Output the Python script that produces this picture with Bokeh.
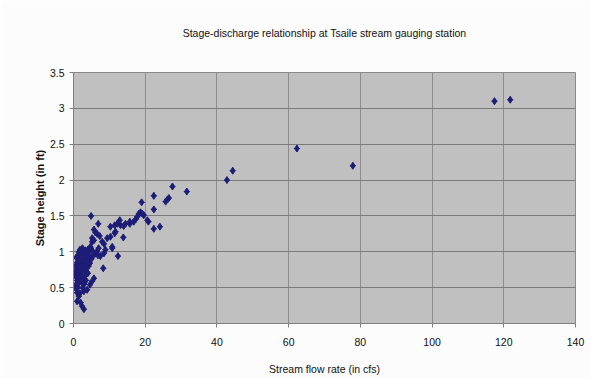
from bokeh.plotting import figure
from bokeh.models import Range1d, FixedTicker, NumeralTickFormatter, ColumnDataSource, BoxAnnotation, Title, Label
from bokeh.embed import file_html
from bokeh.resources import INLINE

title_text = "Stage-discharge relationship at Tsaile stream gauging station"
x_label = "Stream flow rate (in cfs)"
y_label = "Stage height (in ft)"
x_ticks = [0, 20, 40, 60, 80, 100, 120, 140]
y_ticks = [0, 0.5, 1, 1.5, 2, 2.5, 3, 3.5]

# stream flow rate (cfs)
flow = [
    0.8, 1.0, 1.2, 1.5, 1.8, 2.0, 2.2, 2.5, 2.8, 3.0, 3.3, 3.6, 4.0, 4.3, 4.8, 5.2,
    0.9, 1.1, 1.3, 1.6, 1.9, 2.1, 2.4, 2.6, 2.9, 3.2, 3.5, 3.8, 4.1, 4.5, 5.0, 5.5, 6.0,
    0.7, 1.0, 1.2, 1.5, 1.8, 2.1, 2.3, 2.6, 3.0, 3.4, 3.7, 4.2, 4.6,
    0.8, 1.1, 1.4, 1.7, 2.2, 2.7, 3.1,
    1.0, 1.2, 1.0, 2.0, 2.4, 2.9, 2.9, 3.8, 4.6, 5.2, 5.7,
    8.3, 7.5, 8.5, 8.9, 10.8, 12.4, 4.3, 4.7, 5.2, 5.7, 5.2, 7.3, 8.0, 8.5, 9.4, 10.3,
    5.7, 6.1, 6.6, 6.9, 4.9,
    0.5, 0.6, 0.5, 6.5, 7.0, 6.8, 1.5, 2.0, 3.5, 4.0, 3.0, 2.5, 1.5, 1.8,
    10.3, 11.5, 12.2, 13.1, 14.0, 14.5, 15.7, 15.7, 12.9, 11.7, 11.5, 13.9, 10.8,
    16.8, 17.3, 17.8, 18.2, 18.7, 19.2, 19.6, 20.6, 20.9, 19.0, 22.4, 22.4, 22.4,
    24.1, 25.7, 26.2, 26.6, 27.6, 31.6, 42.8, 44.4, 62.3, 77.9, 117.4, 121.8,
]
# stage height (ft)
stage = [
    0.92, 0.85, 0.95, 1.00, 1.03, 0.98, 1.02, 1.05, 1.00, 0.95, 1.02, 0.98, 1.03, 1.00, 1.05, 1.02,
    0.75, 0.70, 0.80, 0.78, 0.85, 0.90, 0.82, 0.88, 0.84, 0.90, 0.86, 0.92, 0.88, 0.93, 0.90, 0.95, 0.97,
    0.65, 0.60, 0.68, 0.64, 0.70, 0.72, 0.66, 0.76, 0.74, 0.78, 0.72, 0.80, 0.84,
    0.55, 0.50, 0.56, 0.60, 0.58, 0.62, 0.66,
    0.43, 0.50, 0.31, 0.29, 0.24, 0.20, 0.45, 0.47, 0.54, 0.59, 0.63,
    0.77, 0.94, 0.98, 1.03, 1.05, 0.94, 1.03, 1.07, 1.14, 1.16, 1.19, 1.22, 1.14, 1.11, 1.19, 1.21,
    1.31, 1.27, 1.25, 1.39, 1.50,
    0.70, 0.80, 0.50, 1.00, 1.05, 0.95, 0.90, 0.80, 0.60, 0.70, 0.55, 0.50, 0.38, 0.42,
    1.35, 1.37, 1.39, 1.37, 1.36, 1.39, 1.42, 1.39, 1.44, 1.28, 1.26, 1.20, 1.07,
    1.42, 1.45, 1.49, 1.53, 1.55, 1.53, 1.51, 1.44, 1.42, 1.69, 1.59, 1.78, 1.32,
    1.35, 1.70, 1.73, 1.75, 1.91, 1.84, 2.00, 2.13, 2.44, 2.20, 3.10, 3.12,
]

src = ColumnDataSource(data=dict(flow=flow, stage=stage))

p = figure(width=590, height=377, output_backend="svg", toolbar_location=None,
           x_range=Range1d(0, 140), y_range=Range1d(0, 3.5),
           min_border_left=73, min_border_right=15, min_border_top=72, min_border_bottom=53,
           title=title_text)

p.background_fill_color = "#c0c0c0"
p.border_fill_color = "#fcfcfc"
p.outline_line_color = "#8a8a8a"
p.outline_line_width = 1

p.title.align = "center"
p.title.text_font = "Liberation Sans"
p.title.text_font_size = "10.5px"
p.title.text_font_style = "normal"
p.title.text_color = "#111111"
# spacer between title and frame
p.add_layout(Title(text=" ", text_font_size="15px"), "above")

# black border lines at the top and left of the chart
p.add_layout(Label(x=5, y=5, x_units="canvas", y_units="canvas", text=" " * 300,
                   text_font_size="1px", text_line_height=1.0, anchor="top_left",
                   background_fill_color="black", background_fill_alpha=1.0,
                   padding=1))
p.add_layout(BoxAnnotation(left=-68, right=-66, top=-67, bottom=-400,
                           left_units="screen", right_units="screen",
                           top_units="screen", bottom_units="screen",
                           fill_color="black", fill_alpha=1, line_color=None, level="overlay"))

p.xaxis.ticker = FixedTicker(ticks=x_ticks)
p.yaxis.ticker = FixedTicker(ticks=y_ticks)
p.yaxis.formatter = NumeralTickFormatter(format="0.[0]")
p.xaxis.formatter = NumeralTickFormatter(format="0")

for ax in (p.xaxis, p.yaxis):
    ax.axis_line_color = "#808080"
    ax.major_tick_line_color = "#808080"
    ax.major_tick_out = 4
    ax.major_tick_in = 0
    ax.minor_tick_line_color = None
    ax.major_label_text_font = "Liberation Sans"
    ax.major_label_text_font_size = "10.5px"
    ax.major_label_text_color = "#111111"
    ax.axis_label_text_font = "Liberation Sans"
    ax.axis_label_text_color = "#111111"

p.xaxis.axis_label = x_label
p.xaxis.axis_label_text_font_size = "10.5px"
p.xaxis.axis_label_text_font_style = "normal"
p.xaxis.major_label_standoff = 10
p.xaxis.axis_label_standoff = 14
p.yaxis.axis_label = y_label
p.yaxis.axis_label_text_font_size = "11px"
p.yaxis.axis_label_text_font_style = "bold"
p.yaxis.major_label_standoff = 5
p.yaxis.axis_label_standoff = 1

p.xgrid.grid_line_color = "#8c8c8c"
p.ygrid.grid_line_color = "#7a7a7a"
p.xgrid.grid_line_width = 1
p.ygrid.grid_line_width = 1

p.scatter("flow", "stage", source=src, marker="diamond", size=7,
          fill_color="#1e1e78", line_color="#1e1e78", line_width=1)
p.scatter("flow", "stage", source=src, marker="cross", size=6,
          line_color="#1e1e78", line_width=1.2)

open("out.html", "w").write(file_html(p, INLINE))
